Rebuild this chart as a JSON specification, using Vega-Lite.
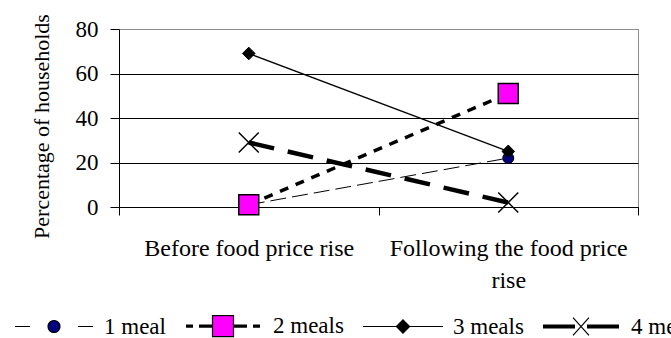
{
  "$schema": "https://vega.github.io/schema/vega-lite/v6.json",
  "width": 519,
  "height": 178,
  "autosize": "none",
  "padding": {"left": 119, "top": 29, "right": 33, "bottom": 131},
  "background": "white",
  "config": {
    "font": "Liberation Serif",
    "view": {"stroke": "#8c8c8c", "strokeWidth": 1},
    "axis": {"labelColor": "black", "titleColor": "black", "tickColor": "black", "domainColor": "black"},
    "legend": {
      "title": null,
      "orient": "none",
      "legendX": -106,
      "legendY": 256,
      "direction": "horizontal",
      "padding": 0,
      "columnPadding": 16,
      "labelOffset": 9,
      "symbolSize": 6400,
      "symbolStrokeWidth": 1.2,
      "labelFontSize": 23,
      "labelColor": "black",
      "labelLimit": 300
    }
  },
  "data": {
    "values": [
      {"period": "Before food price rise", "series": "1 meal", "value": 1},
      {"period": "Following the food price rise", "series": "1 meal", "value": 22},
      {"period": "Before food price rise", "series": "2 meals", "value": 1},
      {"period": "Following the food price rise", "series": "2 meals", "value": 51},
      {"period": "Before food price rise", "series": "3 meals", "value": 69},
      {"period": "Following the food price rise", "series": "3 meals", "value": 25},
      {"period": "Before food price rise", "series": "4 meals", "value": 29},
      {"period": "Following the food price rise", "series": "4 meals", "value": 2}
    ]
  },
  "encoding": {
    "x": {
      "field": "period",
      "type": "nominal",
      "sort": null,
      "scale": {"paddingInner": 0, "paddingOuter": 0},
      "axis": {
        "title": null,
        "labelAngle": 0,
        "labelFontSize": 24,
        "labelBaseline": "top",
        "labelPadding": 21,
        "labelLineHeight": 32,
        "labelLimit": 400,
        "tickBand": "extent",
        "tickSize": 8,
        "labelExpr": "datum.value == 'Following the food price rise' ? ['Following the food price', 'rise'] : datum.value",
        "grid": false
      }
    },
    "y": {
      "field": "value",
      "type": "quantitative",
      "scale": {"domain": [0, 80], "nice": false},
      "axis": {
        "title": "Percentage of households",
        "titleFontSize": 22,
        "titleFontWeight": "normal",
        "titleAngle": -90,
        "titleAlign": "center",
        "titleBaseline": "alphabetic",
        "titleX": -71,
        "titleY": 97,
        "values": [0, 20, 40, 60, 80],
        "labelFontSize": 23,
        "labelPadding": 12,
        "tickSize": 9,
        "grid": true,
        "gridColor": {"condition": {"test": "datum.value === 80", "value": "#8c8c8c"}, "value": "black"},
        "gridOpacity": 1
      }
    }
  },
  "layer": [
    {
      "transform": [{"filter": "datum.series === '1 meal'"}],
      "mark": {"type": "line", "color": "black", "strokeWidth": 1, "strokeDash": [16, 6]}
    },
    {
      "transform": [{"filter": "datum.series === '1 meal'"}],
      "mark": {"type": "point", "shape": "circle", "size": 121, "filled": true, "fill": "#000080", "stroke": "black", "strokeWidth": 1, "opacity": 1}
    },
    {
      "transform": [{"filter": "datum.series === '2 meals'"}],
      "mark": {"type": "line", "color": "black", "strokeWidth": 3.5, "strokeDash": [9, 8]}
    },
    {
      "transform": [{"filter": "datum.series === '2 meals'"}],
      "mark": {"type": "point", "shape": "square", "size": 400, "filled": true, "fill": "#ff00ff", "stroke": "black", "strokeWidth": 1.5, "opacity": 1}
    },
    {
      "transform": [{"filter": "datum.series === '3 meals'"}],
      "mark": {"type": "line", "color": "black", "strokeWidth": 1.3}
    },
    {
      "transform": [{"filter": "datum.series === '3 meals'"}],
      "mark": {"type": "point", "shape": "diamond", "size": 160, "filled": true, "fill": "black", "stroke": "black", "strokeWidth": 1, "opacity": 1}
    },
    {
      "transform": [{"filter": "datum.series === '4 meals'"}],
      "mark": {"type": "line", "color": "black", "strokeWidth": 4.5, "strokeDash": [26, 14]}
    },
    {
      "transform": [{"filter": "datum.series === '4 meals'"}],
      "mark": {"type": "point", "shape": "M-1,-1L1,1M-1,1L1,-1", "size": 400, "filled": false, "stroke": "black", "strokeWidth": 1.5, "opacity": 1}
    },
    {
      "transform": [{"filter": "false"}],
      "mark": {"type": "point", "filled": true, "strokeWidth": 1.2, "opacity": 1},
      "encoding": {
        "shape": {
          "field": "series",
          "type": "nominal",
          "scale": {
            "domain": ["1 meal", "2 meals", "3 meals", "4 meals"],
            "range": [
              "M-0.975,0H-0.6M0.15,0A0.15,0.15 0 1,1 -0.15,0A0.15,0.15 0 1,1 0.15,0ZM0.6,0H0.975",
              "M-0.925,-0.025H-0.75M-0.925,0H-0.75M-0.925,0.025H-0.75M-0.6,-0.025H-0.2625M-0.6,0H-0.2625M-0.6,0.025H-0.2625M0.2625,-0.025H0.6M0.2625,0H0.6M0.2625,0.025H0.6M0.75,-0.025H0.925M0.75,0H0.925M0.75,0.025H0.925M-0.2625,-0.2625H0.2625V0.2625H-0.2625Z",
              "M-1,0H1M0,-0.165L0.165,0L0,0.165L-0.165,0Z",
              "M-0.95,-0.0375H-0.15M-0.95,-0.0125H-0.15M-0.95,0.0125H-0.15M-0.95,0.0375H-0.15M0.15,-0.0375H0.95M0.15,-0.0125H0.95M0.15,0.0125H0.95M0.15,0.0375H0.95M-0.2,-0.22L0.2,0.22M-0.2,0.22L0.2,-0.22"
            ]
          }
        },
        "fill": {
          "field": "series",
          "type": "nominal",
          "scale": {
            "domain": ["1 meal", "2 meals", "3 meals", "4 meals"],
            "range": ["#000080", "#ff00ff", "black", "black"]
          }
        },
        "stroke": {
          "field": "series",
          "type": "nominal",
          "scale": {
            "domain": ["1 meal", "2 meals", "3 meals", "4 meals"],
            "range": ["black", "black", "black", "black"]
          }
        }
      }
    }
  ]
}
